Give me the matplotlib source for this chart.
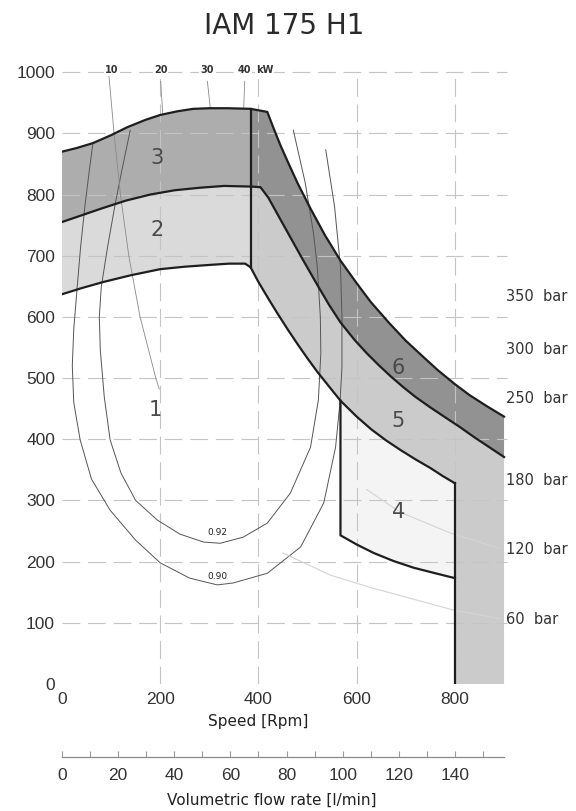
import numpy as np
import matplotlib
matplotlib.use("Agg")
import matplotlib.pyplot as plt

# ---------------- data (speed in rpm, torque in Nm) ----------------
upper_left_rpm = [0, 30, 63, 100, 133, 170, 200, 235, 267, 300, 337, 384]
upper_left_t = [870, 876, 884, 897, 910, 922, 930, 936, 940, 941, 941, 940]
upper_right_rpm = [384, 418, 430, 445, 460, 480, 506, 535, 567, 600, 629, 665, 700, 735, 765, 800, 830, 865, 900]
upper_right_t = [940, 935, 910, 880, 853, 818, 777, 734, 692, 655, 624, 591, 561, 535, 513, 490, 472, 454, 437]

mid_left_rpm = [0, 40, 80, 130, 180, 230, 280, 330, 384]
mid_left_t = [755, 766, 777, 790, 800, 807, 811, 814, 813]
mid_right_rpm = [384, 404, 420, 440, 465, 490, 520, 545, 567, 595, 620, 645, 669, 695, 720, 750, 778, 810, 840, 870, 900]
mid_right_t = [813, 812, 795, 766, 730, 694, 652, 618, 591, 563, 541, 521, 503, 485, 469, 452, 437, 420, 403, 387, 371]

low_left_rpm = [0, 40, 84, 140, 200, 250, 302, 340, 373, 384]
low_left_t = [637, 647, 657, 668, 678, 682, 685, 687, 687, 681]
low_right_rpm = [384, 400, 420, 440, 460, 480, 500, 520, 540, 567, 600, 630, 660, 690, 720, 750, 775, 800]
low_right_t = [681, 657, 630, 604, 579, 555, 532, 510, 490, 463, 437, 416, 398, 382, 367, 353, 340, 328]

zone4_bottom_rpm = [567, 600, 635, 675, 716, 760, 800]
zone4_bottom_t = [243, 228, 214, 201, 190, 181, 173]

eff90_rpm = [63, 55, 47, 38, 31, 24, 21, 24, 37, 60, 98, 150, 200, 260, 316, 348,
             418, 486, 533, 557, 566, 570, 570, 567, 555, 537]
eff90_t = [884, 835, 783, 715, 649, 580, 520, 460, 399, 335, 284, 235, 198, 173, 162, 165,
           181, 224, 296, 387, 460, 518, 600, 681, 780, 873]
eff92_rpm = [139, 122, 108, 93, 80, 76, 78, 86, 98, 120, 150, 194, 240, 288, 322, 369,
             418, 465, 506, 522, 527, 526, 520, 512, 495, 471]
eff92_t = [905, 840, 783, 715, 649, 600, 546, 470, 399, 345, 300, 268, 245, 232, 230, 240,
           263, 312, 387, 464, 540, 600, 680, 737, 820, 905]

kw10_rpm = [95, 106, 119, 136, 159, 191, 198]
kw10_t = [1000, 900, 800, 700, 600, 500, 482]
kw20_rpm = [201, 205]
kw20_t = [985, 933]
kw30_rpm = [296, 302]
kw30_t = [985, 941]
kw40_rpm = [372, 370]
kw40_t = [985, 941]

bar60_rpm = [450, 546, 627, 796, 890]
bar60_t = [214, 178, 158, 121, 107]
bar120_rpm = [620, 688, 790, 890]
bar120_t = [318, 281, 247, 222]

kw_labels = ["10", "20", "30", "40", "kW"]
kw_label_rpm = [102, 201, 295, 371, 413]

zone_labels = ["1", "2", "3", "4", "5", "6"]
zone_label_rpm = [190, 194, 194, 686, 684, 684]
zone_label_t = [448, 742, 860, 281, 430, 516]

bar_labels = ["350  bar", "300  bar", "250  bar", "180  bar", "120  bar", "60  bar"]
bar_label_t = [634, 547, 467, 332, 219, 105]

speed_ticks = [0, 200, 400, 600, 800]
torque_ticks = [0, 100, 200, 300, 400, 500, 600, 700, 800, 900, 1000]
flow_ticks = [0, 20, 40, 60, 80, 100, 120, 140]
flow_per_rpm = 0.175  # l/min per rpm (175 cc)

# ---------------- figure ----------------
fig = plt.figure(figsize=(5.76, 8.11), dpi=100)
ax = fig.add_axes([0.1076, 0.1566, 0.776, 0.762])
xmax, ymax = 910, 1010
ax.set_xlim(0, xmax)
ax.set_ylim(0, ymax)
for s in ax.spines.values():
    s.set_visible(False)

c3, c2, c6, c5, c4 = "#adadad", "#dadada", "#929292", "#cbcbcb", "#f4f4f4"
lc = "#1e1e1e"

def poly(xa, ya, xb, yb):
    return np.r_[xa, xb[::-1]], np.r_[ya, yb[::-1]]

ulr, ult = np.array(upper_left_rpm), np.array(upper_left_t)
urr, urt = np.array(upper_right_rpm), np.array(upper_right_t)
mlr, mlt = np.array(mid_left_rpm), np.array(mid_left_t)
mrr, mrt = np.array(mid_right_rpm), np.array(mid_right_t)
llr, llt = np.array(low_left_rpm), np.array(low_left_t)
lrr, lrt = np.array(low_right_rpm), np.array(low_right_t)
z4r, z4t = np.array(zone4_bottom_rpm), np.array(zone4_bottom_t)

# zone 3
x, y = poly(ulr, ult, mlr, mlt)
ax.fill(x, y, color=c3, lw=0, zorder=1)
# zone 2
x, y = poly(mlr, mlt, llr, llt)
ax.fill(x, y, color=c2, lw=0, zorder=1)
# zone 6
x, y = poly(urr, urt, mrr, mrt)
ax.fill(x, y, color=c6, lw=0, zorder=1)
# zone 5
x5 = np.r_[mrr, [mrr[-1], lrr[-1]], lrr[::-1]]
y5 = np.r_[mrt, [0, 0], lrt[::-1]]
ax.fill(x5, y5, color=c5, lw=0, zorder=1)
# zone 4
m = lrr >= z4r[0]
x, y = poly(lrr[m], lrt[m], z4r, z4t)
ax.fill(x, y, color=c4, lw=0, zorder=1)

# grid
gkw = dict(color="#c4c4c4", lw=0.8, dashes=(16, 7), zorder=2)
for t in torque_ticks[1:]:
    ax.plot([0, xmax * 0.995], [t, t], **gkw)
for s in speed_ticks[1:]:
    ax.plot([s, s], [0, 1000], **gkw)

# thin lines (efficiency, power, pressure)
ax.plot(eff90_rpm, eff90_t, color="#555555", lw=0.7, zorder=3)
ax.plot(eff92_rpm, eff92_t, color="#555555", lw=0.7, zorder=3)
for xr, yt in [(kw10_rpm, kw10_t), (kw20_rpm, kw20_t), (kw30_rpm, kw30_t), (kw40_rpm, kw40_t)]:
    ax.plot(xr, yt, color="#8a8a8a", lw=0.6, zorder=3)
ax.plot(bar60_rpm, bar60_t, color="#d4d4d4", lw=0.8, zorder=3)
ax.plot(bar120_rpm, bar120_t, color="#d4d4d4", lw=0.8, zorder=3)

# boundary lines
bkw = dict(color=lc, lw=1.6, zorder=4, solid_joinstyle="round")
ax.plot(np.r_[ulr, urr[1:]], np.r_[ult, urt[1:]], **bkw)
ax.plot(np.r_[mlr, mrr[1:]], np.r_[mlt, mrt[1:]], **bkw)
ax.plot(np.r_[llr, lrr[1:]], np.r_[llt, lrt[1:]], **bkw)
ax.plot([ulr[-1], ulr[-1]], [llt[-1], ult[-1]], **bkw)
ax.plot([lrr[-1], lrr[-1]], [lrt[-1], 0], **bkw)
ax.plot(np.r_[z4r[0], z4r], np.r_[lrt[m][0], z4t], **bkw)

# labels
for s, xr in zip(kw_labels, kw_label_rpm):
    ax.text(xr, 1004, s, ha="center", va="center", fontsize=7, fontweight="bold",
            color="#333333", zorder=5,
            bbox=dict(boxstyle="square,pad=0.1", fc="white", ec="none"))
for s, xr, yt in zip(zone_labels, zone_label_rpm, zone_label_t):
    ax.text(xr, yt, s, ha="center", va="center", fontsize=15, color="#4a4a4a", zorder=5)
ax.text(316, 248, "0.92", ha="center", va="center", fontsize=6.5, color="#222222", zorder=5)
ax.text(316, 176, "0.90", ha="center", va="center", fontsize=6.5, color="#222222", zorder=5)
for s, yt in zip(bar_labels, bar_label_t):
    ax.text(905, yt, s, ha="left", va="center", fontsize=10.5, color="#333333", zorder=5,
            family="DejaVu Sans", clip_on=False)

ax.set_yticks(torque_ticks)
ax.set_yticklabels([str(t) for t in torque_ticks], family="Liberation Sans", fontsize=12.5, color="#333333")
ax.set_xticks(speed_ticks)
ax.set_xticklabels([str(s) for s in speed_ticks], family="Liberation Sans", fontsize=12.5, color="#333333")
ax.tick_params(axis="y", length=0, pad=5)
ax.tick_params(axis="x", length=0, pad=6)

# flow axis
ax2 = fig.add_axes([0.1076, 0.0666, 0.776, 0.0001])
ax2.set_xlim(0, xmax * flow_per_rpm)
ax2.set_ylim(0, 1)
for k in ["top", "left", "right"]:
    ax2.spines[k].set_visible(False)
ax2.spines["bottom"].set_bounds(0, 900 * flow_per_rpm)
ax2.spines["bottom"].set_color("#8a8a8a")
ax2.spines["bottom"].set_linewidth(0.9)
ax2.set_yticks([])
ax2.set_xticks(flow_ticks)
ax2.set_xticks(np.arange(10, 160, 20), minor=True)
ax2.set_xticklabels([str(f) for f in flow_ticks], family="Liberation Sans", fontsize=12.5, color="#333333")
ax2.tick_params(axis="x", which="both", direction="in", length=4, width=0.8, color="#9a9a9a", pad=8)
ax2.patch.set_visible(False)

fig.text(0.493, 0.968, "IAM 175 H1", ha="center", va="center", fontsize=20, color="#2a2a2a")
fig.text(0.448, 0.110, "Speed [Rpm]", ha="center", va="center", fontsize=11, color="#222222")
fig.text(0.472, 0.0136, "Volumetric flow rate [l/min]", ha="center", va="center", fontsize=11,
         color="#222222")

fig.savefig("out.png", dpi=100)
